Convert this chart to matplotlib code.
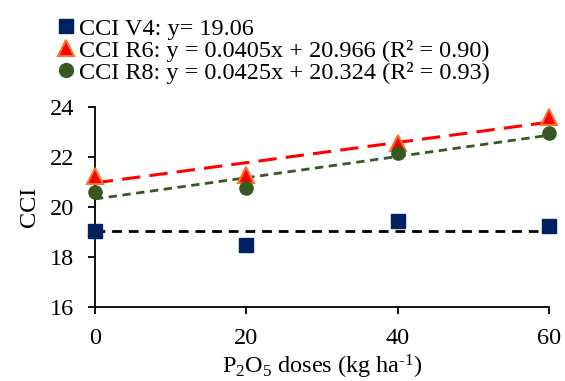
import numpy as np
import matplotlib.pyplot as plt
from matplotlib.lines import Line2D

plt.rcParams['font.family'] = ['Liberation Serif', 'DejaVu Serif']
plt.rcParams['mathtext.fontset'] = 'custom'
plt.rcParams['mathtext.rm'] = 'Liberation Serif'
plt.rcParams['mathtext.it'] = 'Liberation Serif:italic'
plt.rcParams['axes.unicode_minus'] = False

# doses of P2O5 (kg ha-1)
doses = [0, 20, 40, 60]

# CCI readings
cci_v4 = [19.05, 18.5, 19.45, 19.25]
cci_r6 = [21.25, 21.3, 22.55, 23.6]
cci_r8 = [20.6, 20.75, 22.15, 22.95]

# fitted equations shown in the legend
v4_mean = 19.06
r6_fit = (0.0405, 20.966)
r8_fit = (0.0425, 20.324)

labels = ['CCI V4: y= 19.06',
          'CCI R6: y = 0.0405x + 20.966 (R² = 0.90)',
          'CCI R8: y = 0.0425x + 20.324 (R² = 0.93)']

navy = '#002060'
green = '#385723'
red = '#FF0000'
orange = '#F4772E'

fig = plt.figure(figsize=(5.65, 3.81), dpi=100)
ax = fig.add_axes([0.168, 0.194, 0.804, 0.525])

xs = np.array([doses[0], doses[-1]])
ax.plot(xs, [v4_mean, v4_mean], color='black', ls=(0, (3.5, 2.5)), lw=2, zorder=2)
ax.plot(xs, r6_fit[0] * xs + r6_fit[1], color=red, ls=(0, (6, 3)), lw=2.2, zorder=2)
ax.plot(xs, r8_fit[0] * xs + r8_fit[1], color=green, ls=(0, (3, 2)), lw=2, zorder=2)

ax.plot(doses, cci_v4, 's', color=navy, ms=9.5, mec=navy, ls='none', clip_on=False, zorder=3)
ax.plot(doses, cci_r6, '^', color=red, ms=11, mec=orange, mew=1.5, ls='none', clip_on=False, zorder=3)
ax.plot(doses, cci_r8, 'o', color=green, ms=9.5, mec=green, ls='none', clip_on=False, zorder=4)

ax.set_xlim(0, 60)
ax.set_ylim(16, 24)
ax.set_xticks(doses)
ax.set_yticks([16, 18, 20, 22, 24])
ax.spines['top'].set_visible(False)
ax.spines['right'].set_visible(False)
for s in ['left', 'bottom']:
    ax.spines[s].set_linewidth(1.3)
ax.tick_params(direction='out', length=5, width=1.3, labelsize=17.5)
ax.tick_params(axis='y', pad=10)
ax.tick_params(axis='x', pad=10)
ax.set_xlabel('P$_2$O$_5$ doses (kg ha$^{\\text{-}1}$)', fontsize=17.5, labelpad=3)
ax.set_ylabel('CCI', fontsize=17.5, labelpad=7)

handles = [
    Line2D([], [], marker='s', color=navy, ms=10, ls='none'),
    Line2D([], [], marker='^', color=red, mec=orange, mew=1.5, ms=11, ls='none'),
    Line2D([], [], marker='o', color=green, ms=10, ls='none'),
]
fig.legend(handles, labels, loc='upper left', bbox_to_anchor=(0.082, 0.985),
           frameon=False, fontsize=17.5, handlelength=0.6, handletextpad=0.25,
           labelspacing=0.0, borderaxespad=0.1)

fig.savefig('out.png', dpi=100)
